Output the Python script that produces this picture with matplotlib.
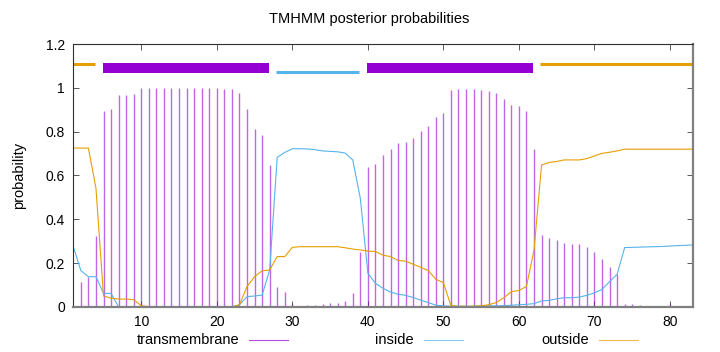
import numpy as np
import matplotlib
matplotlib.use('Agg')
import matplotlib.pyplot as plt
from matplotlib.lines import Line2D

plt.rcParams['font.family'] = ['Liberation Sans', 'DejaVu Sans']
plt.rcParams['font.size'] = 10

# posterior probabilities per residue (1..83)
transmembrane = [0.0, 0.116, 0.138, 0.326, 0.895, 0.904, 0.965, 0.965, 0.971, 0.997,
                 0.997, 1.0, 1.0, 1.0, 1.0, 1.0, 1.0, 1.0, 1.0, 1.0,
                 0.996, 0.994, 0.976, 0.903, 0.813, 0.784, 0.648, 0.093, 0.07, 0.014,
                 0.006, 0.008, 0.008, 0.014, 0.02, 0.02, 0.029, 0.062, 0.253, 0.638,
                 0.651, 0.694, 0.72, 0.747, 0.753, 0.773, 0.805, 0.828, 0.868, 0.887,
                 0.991, 0.994, 0.996, 0.995, 0.99, 0.986, 0.976, 0.95, 0.921, 0.915,
                 0.893, 0.72, 0.327, 0.315, 0.304, 0.292, 0.289, 0.288, 0.275, 0.251,
                 0.221, 0.181, 0.149, 0.014, 0.012, 0.008, 0.006, 0.006, 0.006, 0.014,
                 0.006, 0.003, 0.003]
inside = [0.275, 0.166, 0.138, 0.138, 0.062, 0.062, 0.0, 0.0, 0.0, 0.0,
          0.0, 0.0, 0.0, 0.0, 0.0, 0.0, 0.0, 0.0, 0.0, 0.0,
          0.0, 0.0, 0.01, 0.047, 0.05, 0.054, 0.169, 0.683, 0.705, 0.722,
          0.722, 0.721, 0.718, 0.712, 0.71, 0.708, 0.702, 0.671, 0.496, 0.154,
          0.108, 0.085, 0.068, 0.058, 0.053, 0.043, 0.031, 0.02, 0.008, 0.005,
          0.003, 0.003, 0.003, 0.003, 0.004, 0.005, 0.005, 0.006, 0.008, 0.01,
          0.012, 0.015, 0.027, 0.03, 0.037, 0.042, 0.042, 0.045, 0.053, 0.064,
          0.08, 0.115, 0.149, 0.271, 0.272, 0.273, 0.274, 0.275, 0.276, 0.278,
          0.28, 0.281, 0.283]
outside = [0.725, 0.725, 0.725, 0.542, 0.05, 0.04, 0.036, 0.036, 0.033, 0.005,
           0.002, 0.0, 0.0, 0.0, 0.0, 0.0, 0.0, 0.0, 0.0, 0.0,
           0.0, 0.0, 0.01, 0.093, 0.138, 0.165, 0.169, 0.23, 0.23, 0.272,
           0.275, 0.275, 0.275, 0.275, 0.275, 0.275, 0.27, 0.264, 0.26, 0.255,
           0.253, 0.236, 0.23, 0.212, 0.209, 0.195, 0.181, 0.166, 0.126, 0.111,
           0.006, 0.003, 0.003, 0.003, 0.005, 0.01, 0.02, 0.042, 0.07, 0.075,
           0.094, 0.26, 0.648, 0.659, 0.664, 0.671, 0.671, 0.671, 0.677, 0.689,
           0.701, 0.706, 0.712, 0.72, 0.72, 0.72, 0.72, 0.72, 0.72, 0.72,
           0.72, 0.72, 0.72]
residues = np.arange(1, len(transmembrane) + 1)

# predicted topology (start, end, type)
topology = [(1, 4, 'outside'), (5, 27, 'TMhelix'), (28, 39, 'inside'),
            (40, 62, 'TMhelix'), (63, 83, 'outside')]

c_tm = '#9400D3'
c_in = '#56B4E9'
c_out = '#E69F00'

fig = plt.figure(figsize=(7.2, 3.52), dpi=100)
ax = fig.add_axes([0.1018, 0.128, 0.8602, 0.747])

ax.vlines(residues, 0, transmembrane, color=c_tm, lw=1.0, alpha=0.6)
ax.plot(residues, inside, color=c_in, lw=0.8)
ax.plot(residues, outside, color=c_out, lw=0.8)

for start, end, kind in topology:
    if kind == 'TMhelix':
        ax.plot([start - 0.1, end - 0.1], [1.09, 1.09], color=c_tm, lw=7.2,
                solid_capstyle='butt')
    elif kind == 'inside':
        ax.plot([start - 0.1, end - 0.2], [1.07, 1.07], color=c_in, lw=2.2,
                solid_capstyle='butt')
    else:
        ax.plot([start - 0.2, end - 0.1], [1.11, 1.11], color=c_out, lw=2.2,
                solid_capstyle='butt')

ax.set_xlim(1, 83)
ax.set_ylim(0, 1.2)
ax.set_xticks([10, 20, 30, 40, 50, 60, 70, 80])
ax.set_yticks([0, 0.2, 0.4, 0.6, 0.8, 1.0, 1.2])
ax.set_yticklabels(['0', '0.2', '0.4', '0.6', '0.8', '1', '1.2'])
ax.tick_params(direction='in', length=4, width=0.6, top=True, right=True,
               colors='#404040', labelcolor='black', labelsize=10, pad=6)
for s in ['left', 'top']:
    ax.spines[s].set_color('#303030')
    ax.spines[s].set_linewidth(0.8)
for s in ['right', 'bottom']:
    ax.spines[s].set_color('#808080')
    ax.spines[s].set_linewidth(1.6)

ax.set_ylabel('probability', fontsize=10.5, labelpad=14)
fig.text(0.5125, 0.946, 'TMHMM posterior probabilities', ha='center', va='center',
         fontsize=10.5)

# key, gnuplot style: label then line sample
key = [('transmembrane', c_tm, 239, 249), ('inside', c_in, 414, 424),
       ('outside', c_out, 589, 599)]
for label, col, tx, lx in key:
    fig.text(tx / 720, 1 - 340 / 352, label, ha='right', va='center', fontsize=10.5)
    fig.add_artist(Line2D([lx / 720, (lx + 39) / 720], [1 - 340 / 352] * 2,
                          color=col, lw=0.8, alpha=0.7))

fig.savefig('out.png', dpi=100)
